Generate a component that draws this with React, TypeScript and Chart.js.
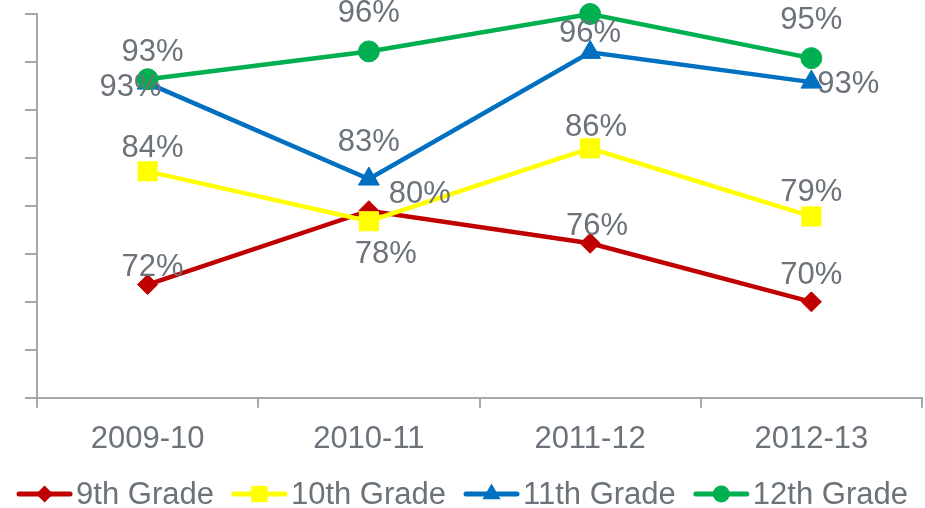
import { useEffect, useRef } from 'react';
import { Chart, registerables } from 'chart.js';

Chart.register(...registerables);

const categories = ['2009-10', '2010-11', '2011-12', '2012-13'];
const seriesNames = ['9th Grade', '10th Grade', '11th Grade', '12th Grade'];
const grade9 = [71.8, 79.5, 76.1, 70.0];
const grade10 = [83.6, 78.4, 86.0, 78.9];
const grade11 = [92.8, 82.8, 96.0, 92.9];
const grade12 = [93.2, 96.1, 100, 95.4];
const yMin = 60;
const yMax = 100;
const yStep = 5;

const FONT_FAMILY = '"Liberation Sans", Arial, sans-serif';
const FONT_SIZE = 31;
const TEXT_COLOR = '#6b7279';
const AXIS_COLOR = '#a4a8ac';
const colors = ['#c00000', '#ffff00', '#0070c0', '#00b050'];
const pointStyles = ['rectRot', 'rect', 'triangle', 'circle'];
const pointRadii = [10, 13.5, 12, 10.5];
const drawOrder = [3, 2, 1, 0];
// label offsets (dx, dy) relative to each point, per series
const labelOffsets = [
  [[5, -17], [51, -16], [7, -17], [0, -26]],
  [[5, -23], [17, 33], [6, -21], [0, -24]],
  [[-17, 4], [0, -37], [0, -19], [37, 2]],
  [[5, -27], [0, -38], [0, -38], [0, -38]],
];

const seriesData = [grade9, grade10, grade11, grade12];

function drawMarker(ctx: CanvasRenderingContext2D, style: string, x: number, y: number, r: number) {
  ctx.beginPath();
  if (style === 'rectRot') {
    ctx.moveTo(x, y - r);
    ctx.lineTo(x + r, y);
    ctx.lineTo(x, y + r);
    ctx.lineTo(x - r, y);
    ctx.closePath();
  } else if (style === 'rect') {
    const s = r * Math.SQRT1_2;
    ctx.rect(x - s, y - s, 2 * s, 2 * s);
  } else if (style === 'triangle') {
    for (let k = 0; k < 3; k++) {
      const a = (k * 2 * Math.PI) / 3;
      const px = x + Math.sin(a) * r;
      const py = y - Math.cos(a) * r;
      if (k === 0) ctx.moveTo(px, py);
      else ctx.lineTo(px, py);
    }
    ctx.closePath();
  } else {
    ctx.arc(x, y, r, 0, Math.PI * 2);
  }
  ctx.fill();
}

const labelsPlugin = {
  id: 'pctLabels',
  afterDatasetsDraw(chart: any) {
    const ctx = chart.ctx as CanvasRenderingContext2D;
    ctx.save();
    ctx.font = `${FONT_SIZE}px ${FONT_FAMILY}`;
    ctx.fillStyle = TEXT_COLOR;
    ctx.textAlign = 'center';
    ctx.textBaseline = 'middle';
    chart.data.datasets.forEach((ds: any, i: number) => {
      const meta = chart.getDatasetMeta(i);
      meta.data.forEach((el: any, j: number) => {
        const v = ds.data[j] as number;
        const [dx, dy] = labelOffsets[i][j];
        ctx.fillText(`${Math.round(v)}%`, el.x + dx, el.y + dy);
      });
    });
    ctx.restore();
  },
};

const legendPlugin = {
  id: 'customLegend',
  afterDraw(chart: any) {
    const ctx = chart.ctx as CanvasRenderingContext2D;
    ctx.save();
    ctx.font = `${FONT_SIZE}px ${FONT_FAMILY}`;
    const lineW = 55;
    const gapLT = 4;
    const gapItem = 18;
    const widths = seriesNames.map((n) => ctx.measureText(n).width);
    const total =
      widths.reduce((a, w) => a + lineW + gapLT + w, 0) + gapItem * (seriesNames.length - 1);
    let x = (chart.width - total) / 2;
    const y = 494;
    seriesNames.forEach((name, i) => {
      ctx.strokeStyle = colors[i];
      ctx.fillStyle = colors[i];
      ctx.lineWidth = 5;
      ctx.lineCap = 'round';
      ctx.beginPath();
      ctx.moveTo(x + 2, y);
      ctx.lineTo(x + lineW - 2, y);
      ctx.stroke();
      const legendR = [8.5, 11.5, 10.5, 8.5][i];
      drawMarker(ctx, pointStyles[i], x + lineW / 2, y, legendR);
      ctx.fillStyle = TEXT_COLOR;
      ctx.textAlign = 'left';
      ctx.textBaseline = 'middle';
      ctx.fillText(name, x + lineW + gapLT, y + 1);
      x += lineW + gapLT + widths[i] + gapItem;
    });
    ctx.restore();
  },
};

export default function App() {
  const canvasRef = useRef<HTMLCanvasElement | null>(null);

  useEffect(() => {
    document.body.style.margin = '0';
    const canvas = canvasRef.current;
    if (!canvas) return;
    const chart = new Chart(canvas, {
      type: 'line',
      data: {
        labels: categories,
        datasets: seriesData.map((d, i) => ({
          label: seriesNames[i],
          data: d,
          borderColor: colors[i],
          backgroundColor: colors[i],
          pointBackgroundColor: colors[i],
          pointBorderColor: colors[i],
          pointBorderWidth: 1,
          borderWidth: 4.5,
          pointStyle: pointStyles[i] as any,
          pointRadius: pointRadii[i],
          tension: 0,
          fill: false,
          clip: false as any,
          order: drawOrder[i],
        })),
      },
      options: {
        animation: false,
        responsive: true,
        maintainAspectRatio: false,
        layout: { autoPadding: false, padding: { left: 25, right: 3, top: 14, bottom: 37 } },
        plugins: {
          legend: { display: false },
          tooltip: { enabled: false },
        },
        scales: {
          x: {
            type: 'category',
            offset: true,
            grid: {
              display: true,
              offset: true,
              drawOnChartArea: false,
              drawTicks: true,
              tickLength: 10,
              color: AXIS_COLOR,
              lineWidth: 2,
            },
            border: { display: true, color: AXIS_COLOR, width: 2 },
            ticks: {
              color: TEXT_COLOR,
              font: { size: FONT_SIZE, family: FONT_FAMILY },
              padding: 13,
              maxRotation: 0,
              autoSkip: false,
            },
          },
          y: {
            min: yMin,
            max: yMax,
            ticks: { display: false, stepSize: yStep },
            grid: {
              display: true,
              drawOnChartArea: false,
              drawTicks: true,
              tickLength: 12,
              color: AXIS_COLOR,
              lineWidth: 2,
            },
            border: { display: true, color: AXIS_COLOR, width: 2 },
          },
        },
      },
      plugins: [labelsPlugin, legendPlugin],
    });
    return () => chart.destroy();
  }, []);

  return (
    <div style={{ position: 'relative', width: 925, height: 508 }}>
      <canvas ref={canvasRef} />
    </div>
  );
}
